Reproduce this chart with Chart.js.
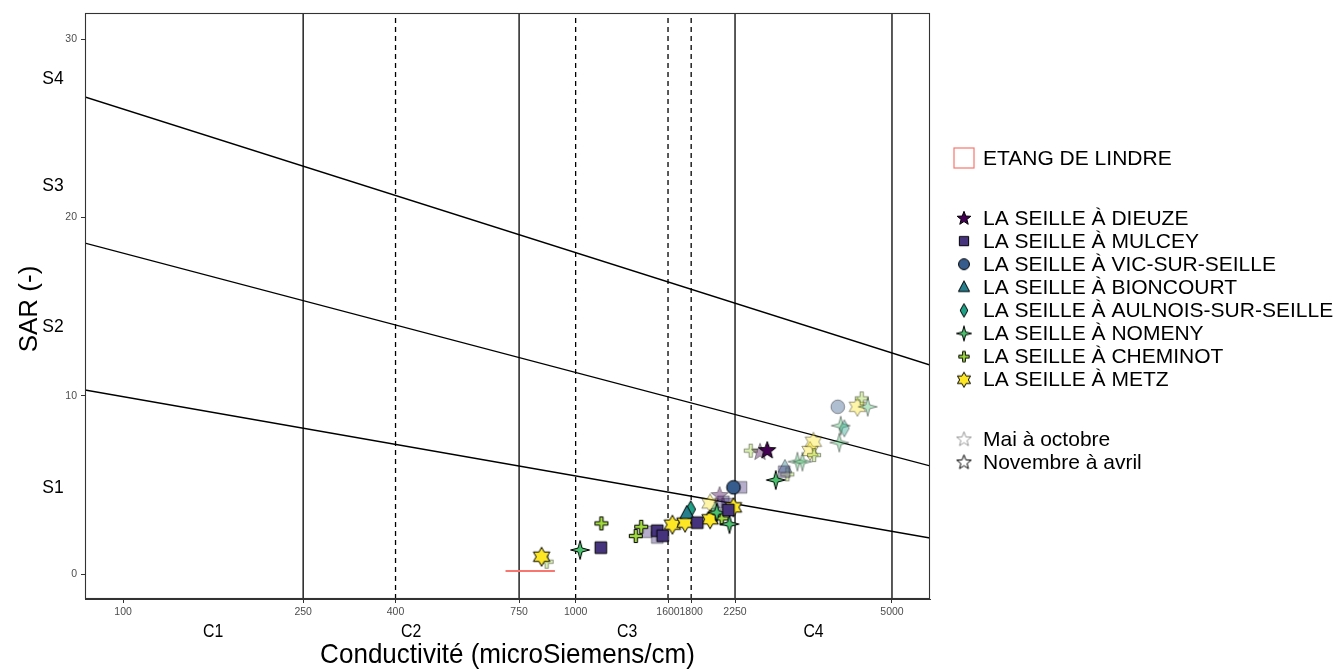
<!DOCTYPE html>
<html>
<head>
<meta charset="utf-8">
<script src="https://cdn.jsdelivr.net/npm/chart.js@4.4.1/dist/chart.umd.min.js"></script>
<style>
  body { margin: 0; background: #fff; }
</style>
</head>
<body>
<canvas id="chart" width="1340" height="670"></canvas>
<script>
// axis ranges and ticks
const xMin = 82.4, xMax = 6067;
const yMin = -1.4, yMax = 31.46;
const xTicks = [100, 250, 400, 750, 1000, 1600, 1800, 2250, 5000];
const yTicks = [0, 10, 20, 30];

// class limits
const solidLimits = [250, 750, 2250, 5000];
const dashedLimits = [400, 1000, 1600, 1800];
const cBounds = [100, 250, 750, 2250, 5000];
const cLabels = ['C1', 'C2', 'C3', 'C4'];
const sLabels = ['S1', 'S2', 'S3', 'S4'];
const sLabelY = [4.8, 13.85, 21.75, 27.75];
// SAR limit lines: value at xMin, value at xMax
const sarLimits = [[10.32, 2.02], [18.56, 6.06], [26.75, 11.72]];

// ETANG DE LINDRE range
const lindre = [[700, 0.17], [900, 0.17]];

// [conductivity, SAR] - Novembre a avril (winter) / Mai a octobre (summer)
const dieuzeWinter = [[2650, 6.95]];
const dieuzeSummer = [[2555, 6.86], [2080, 4.43]];
const mulceyWinter = [[1137, 1.48], [1515, 2.43], [1557, 2.15], [1857, 2.88], [2175, 3.59]];
const mulceySummer = [[1431, 2.37], [1515, 2.05], [2320, 4.86], [2120, 4.05], [2165, 3.92], [2890, 5.74]];
const vicWinter = [[2232, 4.86]];
const vicSummer = [[3795, 9.38]];
const bioncourtWinter = [[1761, 3.40]];
const bioncourtSummer = [[2900, 5.98]];
const aulnoisWinter = [[1796, 3.63]];
const aulnoisSummer = [[3924, 8.17], [2040, 3.62]];
const nomenyWinter = [[1023, 1.35], [2768, 5.27], [2187, 2.80], [2050, 3.45]];
const nomenySummer = [[3090, 6.30], [3170, 6.30], [3824, 7.37], [3852, 8.32], [4419, 9.38]];
const cheminotWinter = [[1140, 2.84], [1396, 2.65], [1358, 2.13], [2103, 3.12]];
const cheminotSummer = [[863, 0.69], [2437, 6.92], [2936, 5.59], [3364, 6.67], [4286, 9.85], [2010, 3.30]];
const metzWinter = [[841, 0.97], [1636, 2.77], [1745, 2.88], [1982, 3.07], [2232, 3.74]];
const metzSummer = [[1982, 3.96], [3296, 6.90], [3352, 7.42], [4193, 9.38]];

const stations = [
  { name: 'LA SEILLE À DIEUZE', shape: 'star5', color: '#440154', winter: dieuzeWinter, summer: dieuzeSummer },
  { name: 'LA SEILLE À MULCEY', shape: 'square', color: '#46337E', winter: mulceyWinter, summer: mulceySummer },
  { name: 'LA SEILLE À VIC-SUR-SEILLE', shape: 'circle', color: '#365C8D', winter: vicWinter, summer: vicSummer },
  { name: 'LA SEILLE À BIONCOURT', shape: 'triangle', color: '#277F8E', winter: bioncourtWinter, summer: bioncourtSummer },
  { name: 'LA SEILLE À AULNOIS-SUR-SEILLE', shape: 'diamond', color: '#1FA187', winter: aulnoisWinter, summer: aulnoisSummer },
  { name: 'LA SEILLE À NOMENY', shape: 'star4', color: '#4AC16D', winter: nomenyWinter, summer: nomenySummer },
  { name: 'LA SEILLE À CHEMINOT', shape: 'plus', color: '#9FDA3A', winter: cheminotWinter, summer: cheminotSummer },
  { name: 'LA SEILLE À METZ', shape: 'star6', color: '#FDE725', winter: metzWinter, summer: metzSummer }
];

const FONT = '"Liberation Sans", Arial, sans-serif';

function starPath(ctx, cx, cy, n, ro, ri, rot) {
  ctx.beginPath();
  for (let i = 0; i < 2 * n; i++) {
    const r = i % 2 === 0 ? ro : ri;
    const a = rot + i * Math.PI / n;
    const px = cx + r * Math.sin(a), py = cy - r * Math.cos(a);
    if (i === 0) ctx.moveTo(px, py); else ctx.lineTo(px, py);
  }
  ctx.closePath();
}

function makeMarker(shape, fill, alpha, stroke, scale) {
  const s = scale || 1;
  const size = Math.ceil(22 * s);
  const c = document.createElement('canvas');
  c.width = size; c.height = size;
  const ctx = c.getContext('2d');
  const m = size / 2;
  ctx.globalAlpha = alpha;
  ctx.fillStyle = fill;
  ctx.strokeStyle = stroke;
  ctx.lineWidth = 1;
  ctx.lineJoin = 'miter';
  if (shape === 'square') {
    const h = 5.8 * s;
    ctx.beginPath(); ctx.rect(m - h, m - h, 2 * h, 2 * h);
  } else if (shape === 'circle') {
    ctx.beginPath(); ctx.arc(m, m, 6.8 * s, 0, Math.PI * 2);
  } else if (shape === 'triangle') {
    const r = 8 * s;
    ctx.beginPath();
    ctx.moveTo(m, m - r);
    ctx.lineTo(m + r * 0.87, m + r * 0.5 + 1);
    ctx.lineTo(m - r * 0.87, m + r * 0.5 + 1);
    ctx.closePath();
  } else if (shape === 'diamond') {
    ctx.beginPath();
    ctx.moveTo(m, m - 8.5 * s); ctx.lineTo(m + 4.8 * s, m);
    ctx.lineTo(m, m + 8.5 * s); ctx.lineTo(m - 4.8 * s, m);
    ctx.closePath();
  } else if (shape === 'star5') {
    starPath(ctx, m, m + 0.5, 5, 9 * s, 3.8 * s, 0);
  } else if (shape === 'star4') {
    starPath(ctx, m, m, 4, 9.5 * s, 2.8 * s, 0);
  } else if (shape === 'star6') {
    starPath(ctx, m, m, 6, 9.5 * s, 5.4 * s, 0);
  } else if (shape === 'plus') {
    const a = 6.5 * s, w = 1.7 * s;
    ctx.beginPath();
    ctx.moveTo(m - w, m - a); ctx.lineTo(m + w, m - a); ctx.lineTo(m + w, m - w);
    ctx.lineTo(m + a, m - w); ctx.lineTo(m + a, m + w); ctx.lineTo(m + w, m + w);
    ctx.lineTo(m + w, m + a); ctx.lineTo(m - w, m + a); ctx.lineTo(m - w, m + w);
    ctx.lineTo(m - a, m + w); ctx.lineTo(m - a, m - w); ctx.lineTo(m - w, m - w);
    ctx.closePath();
  }
  if (fill) ctx.fill();
  ctx.stroke();
  return c;
}

const toPoints = arr => arr.map(p => ({ x: p[0], y: p[1] }));

const datasets = [];
stations.forEach(st => {
  datasets.push({
    type: 'scatter', label: st.name, data: toPoints(st.winter), order: 0,
    pointStyle: makeMarker(st.shape, st.color, 1, '#000'), pointRadius: 9
  });
  datasets.push({
    type: 'scatter', label: st.name + ' (mai-oct)', data: toPoints(st.summer), order: 1,
    pointStyle: makeMarker(st.shape, st.color, 0.4, '#000'), pointRadius: 9
  });
});

const lineStyle = { type: 'line', pointRadius: 0, borderColor: '#000', borderWidth: 1.3, fill: false, order: 3 };
solidLimits.forEach(v => datasets.push(Object.assign({}, lineStyle, { data: [{ x: v, y: yMin }, { x: v, y: yMax }] })));
dashedLimits.forEach(v => datasets.push(Object.assign({}, lineStyle, { borderDash: [5, 4], data: [{ x: v, y: yMin }, { x: v, y: yMax }] })));
sarLimits.forEach(l => datasets.push(Object.assign({}, lineStyle, { data: [{ x: xMin, y: l[0] }, { x: xMax, y: l[1] }] })));
datasets.push(Object.assign({}, lineStyle, { label: 'ETANG DE LINDRE', borderColor: '#F8766D', borderWidth: 2, order: 2, data: toPoints(lindre) }));

// draw a text squeezed horizontally, like the narrow font of the original
function narrowText(ctx, text, x, y, sx) {
  ctx.save();
  ctx.translate(x, y);
  ctx.scale(sx, 1);
  ctx.fillText(text, 0, 0);
  ctx.restore();
}

const decorPlugin = {
  id: 'decor',
  afterDraw(chart) {
    const ctx = chart.ctx;
    const a = chart.chartArea;
    const xs = chart.scales.x, ys = chart.scales.y;
    ctx.save();
    // panel border
    ctx.strokeStyle = '#333';
    ctx.lineWidth = 1.1;
    ctx.strokeRect(a.left + 0.5, a.top + 0.5, a.right - a.left - 1, a.bottom - a.top - 1);
    ctx.fillStyle = '#000';
    // S labels
    ctx.font = '17.5px ' + FONT;
    ctx.textAlign = 'center';
    ctx.textBaseline = 'middle';
    sLabels.forEach((t, i) => ctx.fillText(t, 53, ys.getPixelForValue(sLabelY[i])));
    // C labels
    ctx.font = '18px ' + FONT;
    cLabels.forEach((t, i) => {
      const mid = Math.sqrt(cBounds[i] * cBounds[i + 1]);
      narrowText(ctx, t, xs.getPixelForValue(mid), 632, 0.88);
    });
    // axis titles
    ctx.font = '28px ' + FONT;
    narrowText(ctx, 'Conductivité (microSiemens/cm)', (a.left + a.right) / 2, 655, 0.93);
    ctx.save();
    ctx.translate(30, 309);
    ctx.rotate(-Math.PI / 2);
    ctx.font = '26px ' + FONT;
    ctx.fillText('SAR (-)', 0, 0);
    ctx.restore();
    // legend
    ctx.textAlign = 'left';
    ctx.font = '21px ' + FONT;
    ctx.strokeStyle = '#F8766D';
    ctx.lineWidth = 1.2;
    ctx.strokeRect(954, 148, 20, 20);
    ctx.fillText('ETANG DE LINDRE', 983, 159);
    stations.forEach((st, i) => {
      const y = 218 + i * 23.1;
      const img = makeMarker(st.shape, st.color, 1, '#000', 0.8);
      ctx.drawImage(img, 964 - img.width / 2, y - img.height / 2);
      ctx.fillText(st.name, 983, y + 1);
    });
    const hollowLight = makeMarker('star5', null, 0.4, '#000', 0.85);
    const hollowDark = makeMarker('star5', null, 1, '#000', 0.85);
    ctx.drawImage(hollowLight, 964 - hollowLight.width / 2, 439 - hollowLight.height / 2);
    ctx.fillText('Mai à octobre', 983, 440);
    ctx.drawImage(hollowDark, 964 - hollowDark.width / 2, 462 - hollowDark.height / 2);
    ctx.fillText('Novembre à avril', 983, 463);
    ctx.restore();
  }
};

new Chart(document.getElementById('chart'), {
  data: { datasets: datasets },
  plugins: [decorPlugin],
  options: {
    responsive: false,
    animation: false,
    layout: { padding: { left: 0, right: 410, top: 13, bottom: 0 } },
    plugins: { legend: { display: false }, tooltip: { enabled: false } },
    scales: {
      x: {
        type: 'logarithmic',
        min: xMin, max: xMax,
        afterBuildTicks: scale => { scale.ticks = xTicks.map(v => ({ value: v })); },
        afterFit: scale => { scale.height = 71; },
        ticks: {
          autoSkip: false, maxRotation: 0, padding: 3,
          color: '#4D4D4D', font: { family: FONT, size: 10.5 },
          callback: v => String(v)
        },
        grid: { drawOnChartArea: false, tickLength: 4, color: '#333' },
        border: { color: '#333' }
      },
      y: {
        type: 'linear',
        min: yMin, max: yMax,
        afterBuildTicks: scale => { scale.ticks = yTicks.map(v => ({ value: v })); },
        afterFit: scale => { scale.width = 85; },
        ticks: {
          padding: 4,
          color: '#4D4D4D', font: { family: FONT, size: 10.5 },
          callback: v => String(v)
        },
        grid: { drawOnChartArea: false, tickLength: 4, color: '#333' },
        border: { color: '#333' }
      }
    }
  }
});
</script>
</body>
</html>
